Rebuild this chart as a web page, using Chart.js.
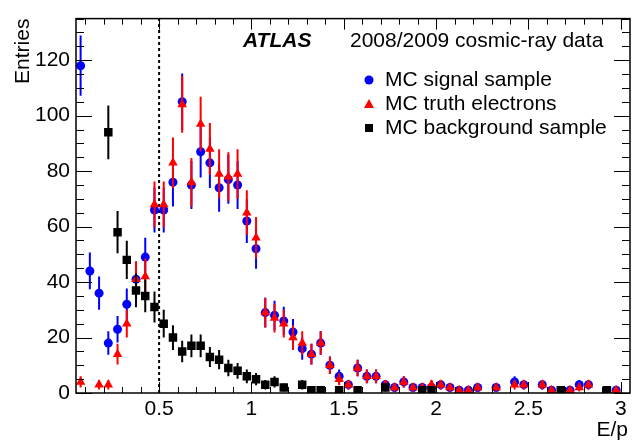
<!DOCTYPE html>
<html>
<head>
<meta charset="utf-8">
<script src="https://cdn.jsdelivr.net/npm/chart.js@4"></script>
<style>
html, body { margin: 0; padding: 0; background: #fff; }
</style>
</head>
<body>
<canvas id="chart" width="641" height="442"></canvas>
<script>
// E/p bin centres (bin width 0.05)
const binCenters = [
  0.075, 0.125, 0.175, 0.225, 0.275, 0.325, 0.375, 0.425, 0.475, 0.525,
  0.575, 0.625, 0.675, 0.725, 0.775, 0.825, 0.875, 0.925, 0.975, 1.025,
  1.075, 1.125, 1.175, 1.225, 1.275, 1.325, 1.375, 1.425, 1.475, 1.525,
  1.575, 1.625, 1.675, 1.725, 1.775, 1.825, 1.875, 1.925, 1.975, 2.025,
  2.075, 2.125, 2.175, 2.225, 2.275, 2.325, 2.375, 2.425, 2.475, 2.525,
  2.575, 2.625, 2.675, 2.725, 2.775, 2.825, 2.875, 2.925, 2.975
];

const signalEntries = [
  118, 44, 36, 18, 23, 32, 41, 49, 66, 66,
  76, 105, 75, 87, 83, 74, 77, 75, 62, 52,
  29, 28, 26, 22, 16, 14, 18, 10, 6, 3,
  9, 6, 6, 3, 2, 4, 2, 2, 2, 3,
  2, 1, 1, 2, null, 2, null, 4, 3, null,
  3, 1, null, 1, 3, 3, null, null, 1
];

const truthEntries = [
  4, null, 3, 3, 14, 25, 41, 42, 68, 68,
  83, 104, 76, 97, 88, 79, 78, 79, 65, 56,
  29, 27, 25, 20, 18, 14, 18, 10, 5, 3,
  9, 6, 6, 3, 2, 4, 2, 2, 3, 3,
  2, 1, 1, 2, null, 2, null, 3, 3, null,
  3, 1, null, 1, 2, 3, null, null, 1
];

const backgroundEntries = [
  null, null, null, 94, 58, 48, 37, 35, 31, 25,
  20, 15, 17, 17, 13, 12, 9, 8, 6, 5,
  3, 4, 2, null, 3, 1, 1, null, 1, null,
  1, null, null, 2, null, null, null, 1, 1, null,
  null, null, null, null, null, null, null, null, null, null,
  null, null, 1, null, null, null, null, 1, null
];

const seriesNames = ['MC signal sample', 'MC truth electrons', 'MC background sample'];
const xTickValues = [0.5, 1, 1.5, 2, 2.5, 3];
const yTickValues = [0, 20, 40, 60, 80, 100, 120];
const cutValue = 0.5;

const FONT = '"Liberation Sans", Arial, Helvetica, sans-serif';

function toPoints(values) {
  const pts = [];
  values.forEach((v, i) => {
    if (v !== null) pts.push({ x: binCenters[i], y: v });
  });
  return pts;
}

// Poisson error bars, drawn just before each dataset's markers
const errorBars = {
  id: 'errorBars',
  beforeDatasetDraw(chart, args) {
    const ds = chart.data.datasets[args.index];
    const { ctx, chartArea, scales } = chart;
    ctx.save();
    ctx.beginPath();
    ctx.rect(chartArea.left, chartArea.top, chartArea.right - chartArea.left, chartArea.bottom - chartArea.top);
    ctx.clip();
    ctx.strokeStyle = ds.borderColor;
    ctx.lineWidth = 2;
    ds.data.forEach(p => {
      const err = Math.sqrt(p.y);
      const px = scales.x.getPixelForValue(p.x);
      ctx.beginPath();
      ctx.moveTo(px, scales.y.getPixelForValue(p.y - err));
      ctx.lineTo(px, scales.y.getPixelForValue(p.y + err));
      ctx.stroke();
    });
    ctx.restore();
  }
};

// frame, inward ticks, cut line, titles and legend
const decorations = {
  id: 'decorations',
  beforeDatasetsDraw(chart) {
    const { ctx, chartArea, scales } = chart;
    const cx = scales.x.getPixelForValue(cutValue);
    ctx.save();
    ctx.strokeStyle = '#000';
    ctx.lineWidth = 2;
    ctx.setLineDash([3, 3]);
    ctx.beginPath();
    ctx.moveTo(cx, chartArea.bottom);
    ctx.lineTo(cx, chartArea.top);
    ctx.stroke();
    ctx.restore();
  },
  afterDraw(chart) {
    const { ctx, chartArea: a, scales } = chart;
    ctx.save();
    ctx.strokeStyle = '#000';
    ctx.lineWidth = 1.5;
    ctx.strokeRect(a.left, a.top, a.right - a.left, a.bottom - a.top);

    ctx.lineWidth = 1;
    ctx.beginPath();
    // x ticks every 0.1, major every 0.5
    for (let k = 1; k <= 30; k++) {
      const v = k / 10;
      const px = Math.round(scales.x.getPixelForValue(v)) + 0.5;
      const len = (k % 5 === 0) ? 11 : 6;
      ctx.moveTo(px, a.bottom); ctx.lineTo(px, a.bottom - len);
      ctx.moveTo(px, a.top); ctx.lineTo(px, a.top + len);
    }
    // y ticks every 5, major every 20
    for (let v = 0; v <= 135; v += 5) {
      const py = Math.round(scales.y.getPixelForValue(v)) + 0.5;
      const len = (v % 20 === 0) ? 16 : 8;
      ctx.moveTo(a.left, py); ctx.lineTo(a.left + len, py);
      ctx.moveTo(a.right, py); ctx.lineTo(a.right - len, py);
    }
    ctx.stroke();

    ctx.fillStyle = '#000';
    ctx.font = '21px ' + FONT;
    ctx.textBaseline = 'middle';
    ctx.textAlign = 'right';
    ctx.fillText('E/p', 628, 430);
    ctx.save();
    ctx.translate(23, a.top);
    ctx.rotate(-Math.PI / 2);
    ctx.textAlign = 'right';
    ctx.fillText('Entries', 0, 0);
    ctx.restore();

    ctx.textAlign = 'left';
    ctx.font = 'italic bold 21px ' + FONT;
    ctx.fillText('ATLAS', 243, 41);
    ctx.font = '21px ' + FONT;
    ctx.fillText('2008/2009 cosmic-ray data', 350, 41);

    const rows = [80, 104, 128];
    const styles = [
      { color: '#0000ff', shape: 'circle' },
      { color: '#ff0000', shape: 'triangle' },
      { color: '#000000', shape: 'rect' }
    ];
    seriesNames.forEach((name, i) => {
      const y = rows[i];
      ctx.fillStyle = styles[i].color;
      ctx.beginPath();
      if (styles[i].shape === 'circle') {
        ctx.arc(369, y, 4.5, 0, Math.PI * 2);
      } else if (styles[i].shape === 'triangle') {
        ctx.moveTo(369, y - 5); ctx.lineTo(374, y + 4); ctx.lineTo(364, y + 4); ctx.closePath();
      } else {
        ctx.rect(365, y - 4, 8, 8);
      }
      ctx.fill();
      ctx.fillStyle = '#000';
      ctx.fillText(name, 385, y);
    });
    ctx.restore();
  }
};

new Chart(document.getElementById('chart'), {
  type: 'scatter',
  data: {
    datasets: [
      {
        label: seriesNames[2],
        data: toPoints(backgroundEntries),
        pointStyle: 'rect',
        pointRadius: 6,
        backgroundColor: '#000000',
        borderColor: '#000000',
        borderWidth: 0
      },
      {
        label: seriesNames[1],
        data: toPoints(truthEntries),
        pointStyle: 'triangle',
        pointRadius: 5.5,
        backgroundColor: '#ff0000',
        borderColor: '#ff0000',
        borderWidth: 0
      },
      {
        label: seriesNames[0],
        data: toPoints(signalEntries),
        pointStyle: 'circle',
        pointRadius: 4.5,
        backgroundColor: '#0000ff',
        borderColor: '#0000ff',
        borderWidth: 0
      }
    ]
  },
  options: {
    responsive: false,
    animation: false,
    layout: { padding: { top: 12, right: 11, left: 0, bottom: 0 } },
    plugins: {
      legend: { display: false },
      tooltip: { enabled: false }
    },
    elements: { point: { hoverRadius: 0 } },
    scales: {
      x: {
        type: 'linear',
        min: 0.05,
        max: 3.05,
        grid: { display: false, drawTicks: false },
        border: { display: false },
        afterFit: s => { s.height = 49; },
        afterBuildTicks: s => { s.ticks = xTickValues.map(v => ({ value: v })); },
        ticks: {
          padding: 4,
          color: '#000',
          font: { family: FONT, size: 21 },
          callback: v => String(v)
        }
      },
      y: {
        min: 0,
        max: 135,
        grid: { display: false, drawTicks: false },
        border: { display: false },
        afterFit: s => { s.width = 76; },
        afterBuildTicks: s => { s.ticks = yTickValues.map(v => ({ value: v })); },
        ticks: {
          padding: 6,
          color: '#000',
          font: { family: FONT, size: 21 },
          callback: v => String(v)
        }
      }
    }
  },
  plugins: [errorBars, decorations]
});
</script>
</body>
</html>
